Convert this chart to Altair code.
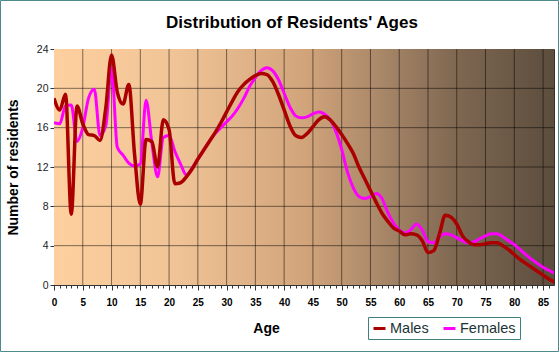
import altair as alt
import pandas as pd

# ---- data ----
ages = list(range(0, 88))
males = [19.0, 17.8, 19.4, 7.2, 18.2, 16.4, 15.3, 15.2, 14.7, 18.0,
         23.4, 19.6, 18.4, 20.4, 13.3, 8.2, 14.8, 14.6, 12.0, 16.8,
         15.8, 10.3, 10.4, 11.0, 11.8, 12.8, 13.7, 14.6, 15.5, 16.5,
         17.6, 18.7, 19.7, 20.4, 20.9, 21.3, 21.5, 21.4, 20.7, 19.4,
         17.8, 16.2, 15.2, 15.0, 15.4, 16.1, 16.8, 17.1, 16.8, 16.1,
         15.3, 14.4, 13.4, 12.0, 10.8, 9.6, 8.4, 7.3, 6.5, 5.8,
         5.5, 5.1, 5.2, 5.1, 4.5, 3.3, 3.5, 5.2, 7.1, 6.9,
         6.2, 5.0, 4.4, 4.1, 4.1, 4.2, 4.3, 4.3, 4.0, 3.6,
         3.1, 2.6, 2.2, 1.8, 1.4, 1.0, 0.6, 0.3]
females = [16.5, 16.4, 18.2, 18.3, 14.6, 16.0, 19.0, 19.9, 15.2, 16.2,
           22.1, 14.0, 13.2, 12.4, 12.1, 12.3, 18.8, 14.5, 11.0, 15.0,
           15.2, 13.6, 12.3, 11.2, 11.9, 12.8, 13.7, 14.6, 15.4, 16.0,
           16.6, 17.2, 18.0, 19.0, 20.2, 21.1, 21.8, 22.1, 21.8, 20.9,
           19.5, 18.1, 17.2, 17.0, 17.1, 17.4, 17.6, 17.4, 16.8, 15.6,
           13.8, 11.5, 9.9, 9.0, 8.8, 9.0, 9.3, 8.8, 7.4, 6.3,
           5.6, 5.3, 5.6, 6.2, 5.6, 4.4, 4.3, 4.9, 5.2, 5.1,
           4.8, 4.5, 4.3, 4.4, 4.7, 5.0, 5.2, 5.2, 4.9, 4.5,
           4.1, 3.6, 3.1, 2.6, 2.2, 1.8, 1.5, 1.2]
series = ["Males", "Females"]
series_colors = ["#aa0000", "#ff00ff"]
x_tick_values = list(range(0, 87))
x_grid_values = list(range(5, 90, 5))
y_tick_values = [0, 4, 8, 12, 16, 20, 24]
y_grid_values = [4, 8, 12, 16, 20]
x_max = 86.9
y_max = 24
title_text = "Distribution of Residents' Ages"

FONT = "Liberation Sans"

df_m = pd.DataFrame({"age": ages, "value": males, "sex": "Males"})
df_f = pd.DataFrame({"age": ages, "value": females, "sex": "Females"})
df_xg = pd.DataFrame({"g": x_grid_values})
df_yg = pd.DataFrame({"g": y_grid_values})
one = alt.Data(values=[{"k": 1}])

xscale = alt.Scale(domain=[0, x_max], nice=False, zero=False)
yscale = alt.Scale(domain=[0, y_max], nice=False)

xaxis = alt.Axis(
    values=x_tick_values,
    labelExpr="datum.value % 5 === 0 ? datum.label : ''",
    labelOverlap=False, labelFlush=False, labelBound=False,
    grid=False,
    tickSize=alt.condition("datum.value % 5 === 0", alt.value(5), alt.value(3)),
    tickColor="#333", domainColor="#333",
    labelFont=FONT, labelFontSize=10, labelFontWeight="bold", labelColor="black",
    labelBaseline="alphabetic", labelPadding=15,
    title="Age", titleFont=FONT, titleFontSize=14, titleFontWeight="bold",
    titleColor="black", titleX=212, titleY=47.5, titleBaseline="alphabetic",
    titleAlign="center",
)
yaxis = alt.Axis(
    values=y_tick_values, grid=False, tickSize=4, tickColor="#333",
    domainColor="#333", labelFont=FONT, labelFontSize=10.5, labelColor="#222",
    labelPadding=2,
    title="Number of residents", titleFont=FONT, titleFontSize=14,
    titleFontWeight="bold", titleColor="black", titleAngle=270,
    titleX=-37, titleY=118, titleBaseline="alphabetic", titleAlign="center",
)

grad = alt.Gradient(
    gradient="linear",
    stops=[
        alt.GradientStop(offset=0.0, color="#FED09F"),
        alt.GradientStop(offset=0.25, color="#F0C396"),
        alt.GradientStop(offset=0.5, color="#D2A47B"),
        alt.GradientStop(offset=0.65, color="#AA8869"),
        alt.GradientStop(offset=0.8, color="#806852"),
        alt.GradientStop(offset=1.0, color="#5C4D3D"),
    ],
    x1=0, x2=1, y1=0, y2=0,
)

bg = alt.Chart(one).mark_rect(color=grad, clip=True).encode(
    x=alt.XDatum(0, scale=xscale, axis=xaxis),
    x2=alt.datum(x_max),
    y=alt.YDatum(0, scale=yscale, axis=yaxis),
    y2=alt.datum(y_max),
)

xgrid = alt.Chart(df_xg).mark_rule(color="black", opacity=0.5, strokeWidth=1).encode(
    x=alt.X("g:Q", scale=xscale, axis=xaxis),
    y=alt.YDatum(0, scale=yscale, axis=yaxis),
    y2=alt.datum(y_max),
)
ygrid = alt.Chart(df_yg).mark_rule(color="black", opacity=0.5, strokeWidth=1).encode(
    y=alt.Y("g:Q", scale=yscale, axis=yaxis),
    x=alt.XDatum(0, scale=xscale, axis=xaxis),
    x2=alt.datum(x_max),
)

legend = alt.Legend(
    orient="none", legendX=314, legendY=268, direction="horizontal",
    title=None, symbolType="stroke", symbolStrokeWidth=3, symbolSize=144,
    labelFont=FONT, labelFontSize=14.5, labelColor="#1c3434", labelOffset=3,
    columnPadding=8, padding=4, strokeColor="#3f8080",
)
color = alt.Color("sex:N", scale=alt.Scale(domain=series, range=series_colors),
                  legend=legend)


def line(df, width):
    return alt.Chart(df).mark_line(interpolate="monotone", strokeWidth=width,
                                   clip=True).encode(
        x=alt.X("age:Q", scale=xscale, axis=xaxis),
        y=alt.Y("value:Q", scale=yscale, axis=yaxis),
        color=color,
    )


frame = alt.Chart(one).mark_rect(filled=False, stroke="#4f8a8a", strokeWidth=1,
                                 clip=False).encode(
    x=alt.value(-53.5), x2=alt.value(504.5),
    y=alt.value(-48.5), y2=alt.value(302.5),
)

title = alt.Chart(one).mark_text(
    text=title_text, font=FONT, fontSize=17, fontWeight="bold", color="black",
    align="center", baseline="alphabetic",
).encode(x=alt.value(238), y=alt.value(-20.7))

chart = alt.layer(bg, xgrid, ygrid, line(df_f, 3), line(df_m, 3.5), frame,
                  title).properties(
    width=500, height=236,
    padding={"left": 54, "top": 49, "right": 6, "bottom": 68},
    autosize=alt.AutoSizeParams(type="none"),
).configure(background="white").configure_view(stroke="#333", strokeWidth=1)

chart.save("out.html", embed_options={"renderer": "svg", "actions": False})
